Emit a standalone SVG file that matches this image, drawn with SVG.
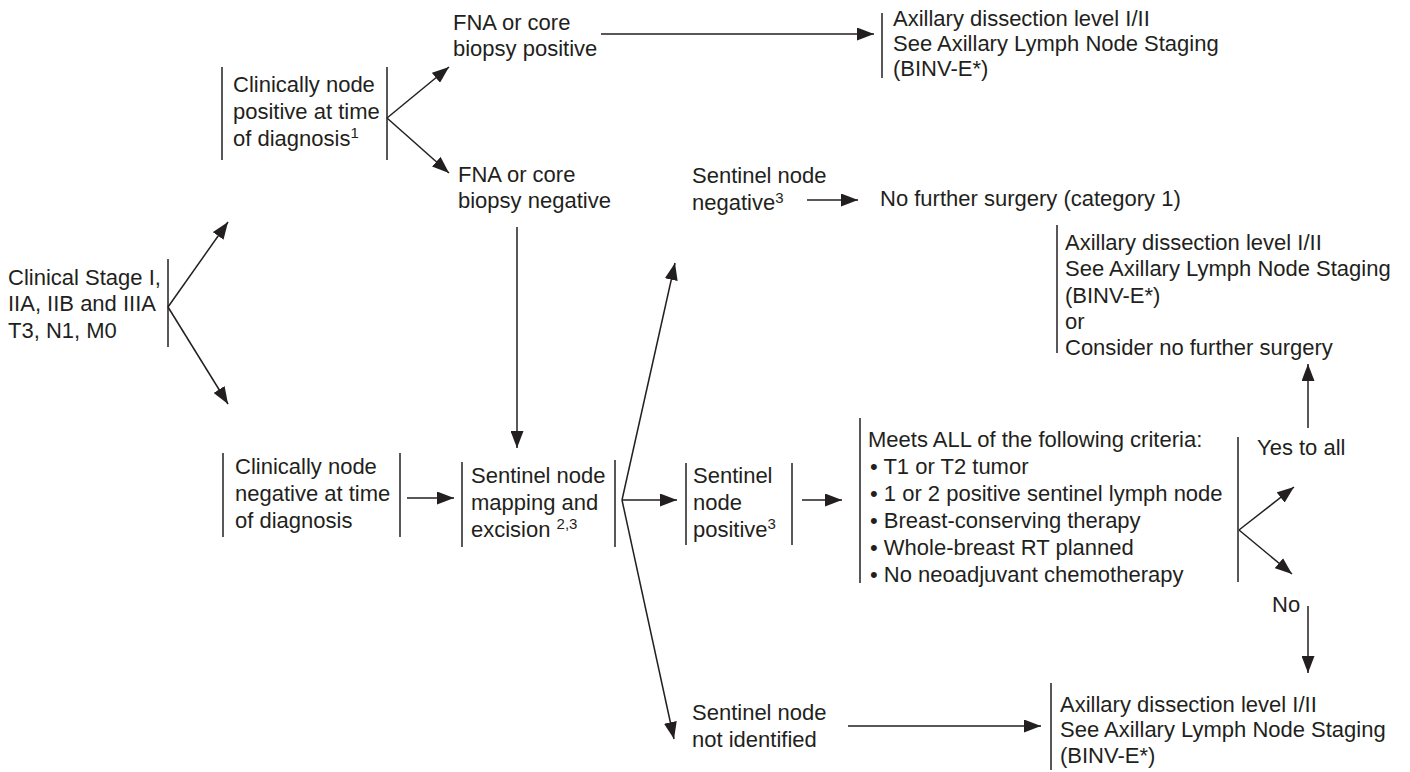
<svg xmlns="http://www.w3.org/2000/svg" width="1410" height="772" viewBox="0 0 1410 772">
<style>
text{font-family:"Liberation Sans",Arial,sans-serif;font-size:22px;fill:#231f20}
.sup{font-size:15px}
.bar{stroke:#231f20;stroke-width:1.5;fill:none}
.c line{stroke:#231f20;stroke-width:1.5;marker-end:url(#ah)}
</style>
<defs>
<marker id="ah" markerUnits="userSpaceOnUse" markerWidth="17" markerHeight="13" refX="17" refY="6.5" orient="auto">
<path d="M0,0 L17,6.5 L0,13 z" fill="#231f20"/>
</marker>
</defs>
<rect width="1410" height="772" fill="#fff"/>

<g id="stage">
<text x="8" y="285">Clinical Stage I,</text>
<text x="8" y="311">IIA, IIB and IIIA</text>
<text x="8" y="338">T3, N1, M0</text>
<line class="bar" x1="168" y1="259" x2="168" y2="347"/>
</g>

<g id="clin-pos">
<line class="bar" x1="222" y1="67" x2="222" y2="160"/>
<text x="233" y="92">Clinically node</text>
<text x="233" y="119">positive at time</text>
<text x="233" y="146">of diagnosis<tspan class="sup" dy="-8">1</tspan></text>
<line class="bar" x1="387" y1="67" x2="387" y2="160"/>
</g>

<g id="fna-pos">
<text x="453" y="30">FNA or core</text>
<text x="453" y="56">biopsy positive</text>
</g>

<g id="ax-top">
<line class="bar" x1="882" y1="13" x2="882" y2="78"/>
<text x="893" y="26">Axillary dissection level I/II</text>
<text x="893" y="51">See Axillary Lymph Node Staging</text>
<text x="893" y="76">(BINV-E*)</text>
</g>

<g id="fna-neg">
<text x="458" y="182">FNA or core</text>
<text x="458" y="208">biopsy negative</text>
</g>

<g id="sn-neg">
<text x="692" y="183">Sentinel node</text>
<text x="692" y="210">negative<tspan class="sup" dy="-7">3</tspan></text>
</g>

<g id="no-further">
<text x="880" y="206">No further surgery (category 1)</text>
</g>

<g id="ax-mid">
<line class="bar" x1="1057" y1="225" x2="1057" y2="353"/>
<text x="1065" y="250">Axillary dissection level I/II</text>
<text x="1065" y="276">See Axillary Lymph Node Staging</text>
<text x="1065" y="303">(BINV-E*)</text>
<text x="1065" y="329">or</text>
<text x="1065" y="355">Consider no further surgery</text>
</g>

<g id="clin-neg">
<line class="bar" x1="223" y1="453" x2="223" y2="537"/>
<text x="235" y="474">Clinically node</text>
<text x="235" y="501">negative at time</text>
<text x="235" y="528">of diagnosis</text>
<line class="bar" x1="400" y1="453" x2="400" y2="537"/>
</g>

<g id="sn-map">
<line class="bar" x1="462" y1="462" x2="462" y2="547"/>
<text x="471" y="483">Sentinel node</text>
<text x="471" y="510">mapping and</text>
<text x="471" y="537">excision <tspan class="sup" dy="-8">2,3</tspan></text>
<line class="bar" x1="615" y1="460" x2="615" y2="547"/>
</g>

<g id="sn-pos">
<line class="bar" x1="686" y1="463" x2="686" y2="545"/>
<text x="693" y="483">Sentinel</text>
<text x="693" y="510">node</text>
<text x="693" y="537">positive<tspan class="sup" dy="-8">3</tspan></text>
<line class="bar" x1="792" y1="463" x2="792" y2="545"/>
</g>

<g id="criteria">
<line class="bar" x1="860" y1="418" x2="860" y2="583"/>
<text x="868" y="447">Meets ALL of the following criteria:</text>
<text x="870" y="474">• T1 or T2 tumor</text>
<text x="870" y="501">• 1 or 2 positive sentinel lymph node</text>
<text x="870" y="528">• Breast-conserving therapy</text>
<text x="870" y="555">• Whole-breast RT planned</text>
<text x="870" y="582">• No neoadjuvant chemotherapy</text>
<line class="bar" x1="1238" y1="437" x2="1238" y2="582"/>
</g>

<g id="yes">
<text x="1257" y="455">Yes to all</text>
</g>

<g id="no">
<text x="1272" y="612">No</text>
</g>

<g id="sn-notid">
<text x="692" y="720">Sentinel node</text>
<text x="692" y="747">not identified</text>
</g>

<g id="ax-bottom">
<line class="bar" x1="1051" y1="683" x2="1051" y2="770"/>
<text x="1060" y="712">Axillary dissection level I/II</text>
<text x="1060" y="737">See Axillary Lymph Node Staging</text>
<text x="1060" y="763">(BINV-E*)</text>
</g>

<g id="connectors" class="c">
<line x1="168" y1="307" x2="228" y2="222"/>
<line x1="168" y1="307" x2="228" y2="404"/>
<line x1="387" y1="118" x2="449" y2="67"/>
<line x1="387" y1="118" x2="449" y2="173"/>
<line x1="601" y1="34" x2="874" y2="34"/>
<line x1="517" y1="227" x2="517" y2="448"/>
<line x1="407" y1="498" x2="454" y2="498"/>
<line x1="622" y1="500" x2="675" y2="263"/>
<line x1="622" y1="500" x2="677" y2="500"/>
<line x1="622" y1="500" x2="674" y2="739"/>
<line x1="807" y1="200" x2="858" y2="200"/>
<line x1="802" y1="500" x2="842" y2="500"/>
<line x1="1239" y1="530" x2="1294" y2="487"/>
<line x1="1239" y1="530" x2="1292" y2="574"/>
<line x1="1308" y1="428" x2="1308" y2="364"/>
<line x1="1308" y1="606" x2="1308" y2="673"/>
<line x1="848" y1="726" x2="1041" y2="726"/>
</g>
</svg>
